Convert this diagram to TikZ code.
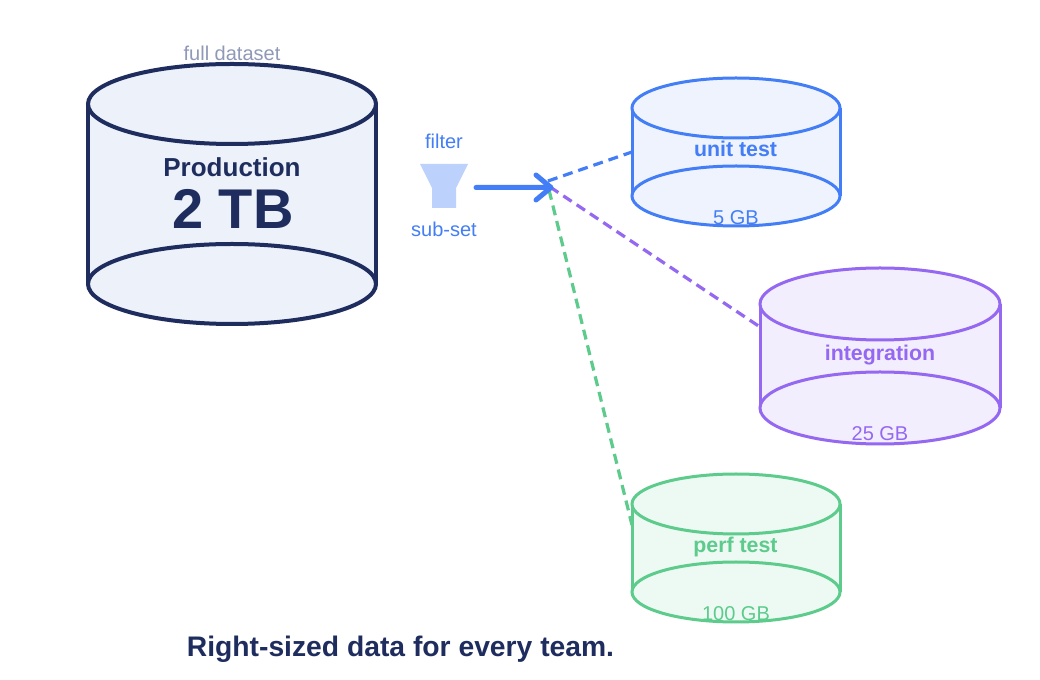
\documentclass[tikz,border=0pt]{standalone}
\usepackage{fontspec}
\setmainfont{Liberation Sans}
\definecolor{navy}{HTML}{1E2D5E}
\definecolor{bluec}{HTML}{437EF6}
\definecolor{purplec}{HTML}{9468F1}
\definecolor{greenc}{HTML}{5CCB8B}
\definecolor{mutedc}{HTML}{8F9AB8}
\definecolor{funnelc}{HTML}{BDD1FD}
\definecolor{navyfill}{HTML}{ECF1FA}
\definecolor{bluefill}{HTML}{EEF3FE}
\definecolor{purplefill}{HTML}{F3EEFE}
\definecolor{greenfill}{HTML}{EDF9F3}
\newcommand{\cyl}[7]{% cx, topcy, botcy, rx, ry, stroke colour, fill colour
  \path[fill=#7] (#1-#4,#2) -- (#1-#4,#3) arc[start angle=180,end angle=360,x radius=#4,y radius=#5] -- (#1+#4,#2) -- cycle;
  \draw[draw=#6] (#1-#4,#2) -- (#1-#4,#3) (#1+#4,#2) -- (#1+#4,#3);
  \draw[draw=#6,fill=#7] (#1,#3) ellipse[x radius=#4,y radius=#5];
  \draw[draw=#6,fill=#7] (#1,#2) ellipse[x radius=#4,y radius=#5];
}
\tikzset{
  lbl/.style={inner sep=0pt,anchor=base,font=\fontsize{15}{18}\selectfont},
  lblbold/.style={inner sep=0pt,anchor=base,font=\fontsize{16}{20}\selectfont\bfseries},
  link/.style={line width=2.4pt,dash pattern=on 7.5pt off 4.5pt},
}
\begin{document}
\begin{tikzpicture}[x=0.75pt,y=-0.75pt]
\useasboundingbox[fill=white] (0,0) rectangle (1040,680);
\begin{scope}[line width=3pt]
\cyl{232}{104}{284}{144}{40}{navy}{navyfill}
\end{scope}
\begin{scope}[line width=2.25pt]
\cyl{736}{108}{196}{104}{30}{bluec}{bluefill}
\cyl{880}{304}{408}{120}{36}{purplec}{purplefill}
\cyl{736}{504}{592}{104}{30}{greenc}{greenfill}
\end{scope}
\coordinate (hub) at (550,187);
\coordinate (hubblue) at (548,181);
\coordinate (hubgreen) at (549,190);
\coordinate (unitin) at (632,152);
\coordinate (intin) at (760,327);
\coordinate (perfin) at (632,525);
\coordinate (arrowstart) at (476,187.5);
\coordinate (tiptop) at (536,175);
\coordinate (tipbot) at (536,200);
\coordinate (tip) at (551,187.5);
\draw[link,bluec] (hubblue) -- (unitin);
\draw[link,purplec] (hub) -- (intin);
\draw[link,greenc] (hubgreen) -- (perfin);
\draw[bluec,line width=3.75pt,line cap=round,line join=round] (arrowstart) -- (tip) (tiptop) -- (tip) -- (tipbot);
\fill[funnelc] (420,164) -- (468,164) -- (456,188) -- (456,208) -- (432,208) -- (432,188) -- cycle;
\node[lbl,text=mutedc] (full) at (232,61) {full dataset};
\node[inner sep=0pt,anchor=base,text=navy,font=\fontsize{19.5}{24}\selectfont\bfseries] (prod) at (232,177) {Production};
\node[inner sep=0pt,anchor=base,text=navy,font=\fontsize{42}{50}\selectfont\bfseries] (size) at (233,229) {2 TB};
\node[lbl,text=bluec] (filter) at (444,149) {filter};
\node[lbl,text=bluec] (subset) at (444,237) {sub-set};
\node[lblbold,text=bluec] (unit) at (735.5,157) {unit test};
\node[lbl,text=bluec] (unitgb) at (736,224.5) {5 GB};
\node[lblbold,text=purplec] (integ) at (880,361) {integration};
\node[lbl,text=purplec] (integb) at (880,440.5) {25 GB};
\node[lblbold,text=greenc] (perf) at (735.5,553) {perf test};
\node[lbl,text=greenc] (perfgb) at (736,620.5) {100 GB};
\node[inner sep=0pt,anchor=base,text=navy,font=\fontsize{21.2}{26}\selectfont\bfseries] (title) at (400.5,657) {Right-sized data for every team.};
\end{tikzpicture}
\end{document}
